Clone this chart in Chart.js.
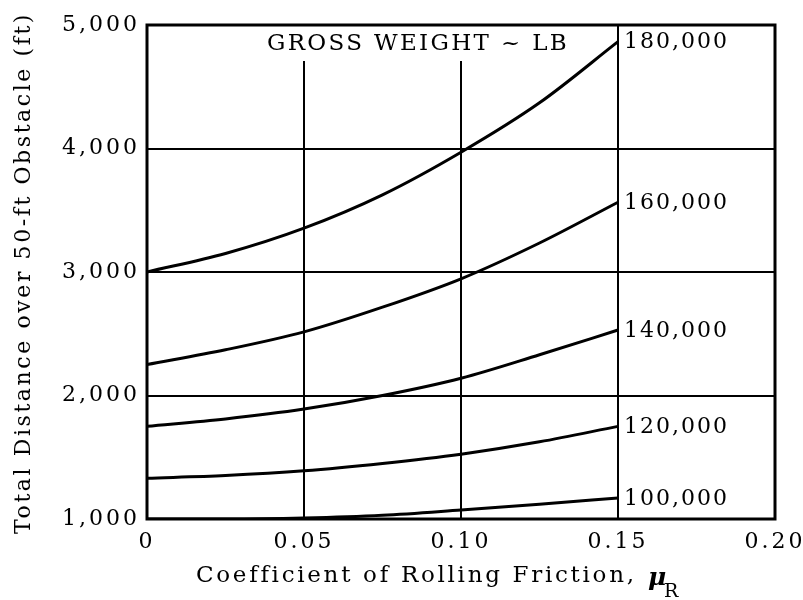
<!DOCTYPE html>
<html>
<head>
<meta charset="utf-8">
<script src="https://cdn.jsdelivr.net/npm/chart.js@4"></script>
<style>
  body { margin: 0; background: #fff; }
  canvas { display: block; }
</style>
</head>
<body>
<canvas id="ChartCanvas1" width="803" height="600"></canvas>
<script>
// coefficient of rolling friction (x)
const muR = [0, 0.025, 0.05, 0.075, 0.10, 0.125, 0.15];

// total distance over 50-ft obstacle (ft), one list per gross weight
const dist100k = [1000, 1000, 1008, 1030, 1073, 1120, 1170];
const dist120k = [1330, 1352, 1390, 1450, 1525, 1625, 1750];
const dist140k = [1750, 1810, 1890, 2000, 2140, 2330, 2530];
const dist160k = [2250, 2370, 2515, 2715, 2945, 3235, 3565];
const dist180k = [3000, 3150, 3355, 3625, 3970, 4370, 4865];

const weightLabels = ['100,000', '120,000', '140,000', '160,000', '180,000'];
const xTicks = [0, 0.05, 0.10, 0.15, 0.20];
const xTickLabels = ['0', '0.05', '0.10', '0.15', '0.20'];
const yTicks = [1000, 2000, 3000, 4000, 5000];
const yTickLabels = ['1,000', '2,000', '3,000', '4,000', '5,000'];

const SERIF = "'DejaVu Serif', 'Liberation Serif', serif";

const toPoints = (ys) => ys.map((y, i) => ({ x: muR[i], y: y }));

const series = [dist100k, dist120k, dist140k, dist160k, dist180k];

const datasets = series.map((ys, i) => ({
    label: weightLabels[i],
    data: toPoints(ys),
    borderColor: '#000',
    borderWidth: 3,
    pointRadius: 0,
    fill: false,
    cubicInterpolationMode: 'monotone'
}));

// text stretched with letter spacing so it covers a given width
function spacedText(ctx, text, x, y, width) {
    ctx.letterSpacing = '0px';
    const w = ctx.measureText(text).width;
    const sp = Math.max(0, (width - w) / text.length);
    ctx.letterSpacing = sp + 'px';
    ctx.fillText(text, x, y);
    return width;
}

// draws the frame, the boxed heading, curve labels and the axis titles
const decorations = {
    id: 'decorations',
    beforeUpdate(chart) {
        chart.ctx.letterSpacing = '3px';
    },
    beforeDraw(chart) {
        chart.ctx.letterSpacing = '3px';
    },
    beforeDatasetsDraw(chart) {
        const ctx = chart.ctx;
        const a = chart.chartArea;
        ctx.save();
        // white patch behind heading (grid lines stop below it)
        ctx.fillStyle = '#fff';
        ctx.fillRect(262, a.top, 312, 36);
        ctx.strokeStyle = '#000';
        ctx.lineWidth = 3;
        ctx.strokeRect(a.left, a.top, a.right - a.left, a.bottom - a.top);
        ctx.restore();
    },
    afterDraw(chart) {
        const ctx = chart.ctx;
        const xs = chart.scales.x;
        const ys = chart.scales.y;
        const a = chart.chartArea;
        ctx.save();
        ctx.fillStyle = '#000';
        ctx.textAlign = 'left';

        // heading
        ctx.font = '23px ' + SERIF;
        ctx.textBaseline = 'middle';
        spacedText(ctx, 'GROSS WEIGHT ~ LB', 267, a.top + 19, 302);

        // labels at the end of each curve
        ctx.letterSpacing = '2px';
        ctx.font = '22px ' + SERIF;
        series.forEach((ys_, i) => {
            const last = ys_.length - 1;
            const px = xs.getPixelForValue(muR[last]) + 6;
            const py = ys.getPixelForValue(ys_[last]);
            ctx.fillText(weightLabels[i], px, py + 1);
        });

        // y axis title
        ctx.save();
        ctx.translate(24, 272);
        ctx.rotate(-Math.PI / 2);
        ctx.font = '22px ' + SERIF;
        ctx.textBaseline = 'middle';
        spacedText(ctx, 'Total Distance over 50-ft Obstacle (ft)', -262, 0, 522);
        ctx.restore();

        // x axis title with subscript
        const base = 582;
        ctx.textBaseline = 'alphabetic';
        ctx.font = '23px ' + SERIF;
        spacedText(ctx, 'Coefficient of Rolling Friction,', 196, base, 440);
        ctx.letterSpacing = '0px';
        ctx.font = 'bold italic 25px ' + SERIF;
        ctx.fillText('\u03bc', 648, base + 3);
        ctx.font = '19px ' + SERIF;
        ctx.fillText('R', 664, base + 15);
        ctx.restore();
    }
};

const ctx = document.getElementById('ChartCanvas1').getContext('2d');

const chart = new Chart(ctx, {
    type: 'line',
    data: { datasets: datasets },
    options: {
        responsive: false,
        animation: false,
        devicePixelRatio: 1,
        layout: { padding: 0 },
        plugins: {
            legend: { display: false },
            tooltip: { enabled: false }
        },
        scales: {
            x: {
                type: 'linear',
                min: 0,
                max: 0.20,
                afterBuildTicks: (s) => { s.ticks = xTicks.map(v => ({ value: v })); },
                afterFit: (s) => {
                    s.height = 81;
                    s.paddingLeft = 0;
                    s.paddingRight = 28;
                },
                ticks: {
                    color: '#000',
                    font: { family: SERIF, size: 22 },
                    padding: 10,
                    maxRotation: 0,
                    callback: (v) => xTickLabels[xTicks.indexOf(v)]
                },
                grid: { color: '#000', lineWidth: 2, drawTicks: false },
                border: { display: false }
            },
            y: {
                type: 'linear',
                min: 1000,
                max: 5000,
                afterBuildTicks: (s) => { s.ticks = yTicks.map(v => ({ value: v })); },
                afterFit: (s) => {
                    s.width = 147;
                    s.paddingTop = 25;
                    s.paddingBottom = 0;
                },
                ticks: {
                    color: '#000',
                    font: { family: SERIF, size: 22 },
                    padding: 7,
                    callback: (v) => yTickLabels[yTicks.indexOf(v)]
                },
                grid: { color: '#000', lineWidth: 2, drawTicks: false },
                border: { display: false }
            }
        }
    },
    plugins: [decorations]
});
</script>
</body>
</html>
